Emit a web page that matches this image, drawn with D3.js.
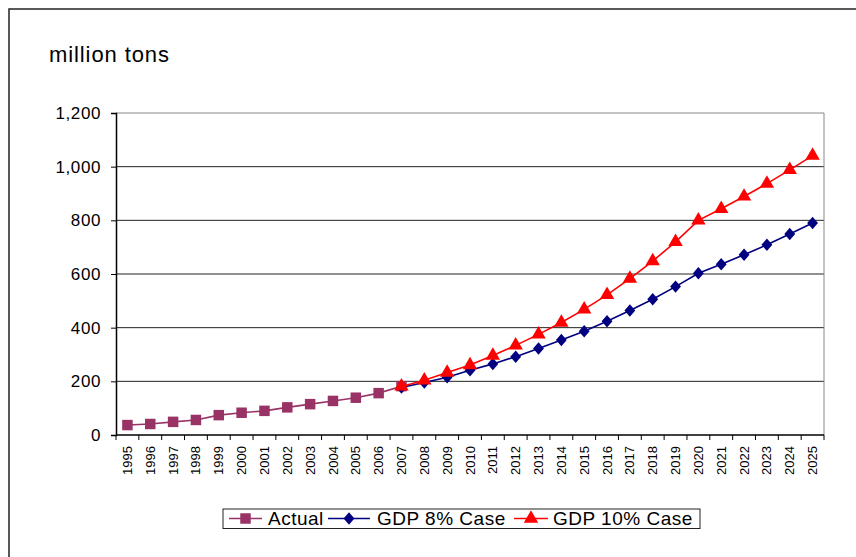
<!DOCTYPE html>
<html>
<head>
<meta charset="utf-8">
<script src="https://cdn.jsdelivr.net/npm/d3@7"></script>
<style>
  html, body { margin: 0; padding: 0; background: #fff; }
  svg { display: block; }
</style>
</head>
<body>
<div id="chart"></div>
<script>
// Years on the category axis
const years = d3.range(1995, 2026).map(String);

// Actual consumption, 1995–2007 (million tons)
const actualYears = years.slice(0, 13);
const actualValues = [37, 41, 49, 56, 74, 83, 90, 103, 115, 127, 139, 156, 182];

// Projections, 2007–2025 (million tons)
const caseYears = years.slice(12);
const gdp8Values = [177, 196, 215, 241, 265, 292, 322, 354, 387, 424, 464, 506, 553, 603, 636, 672, 709, 749, 790];
const gdp10Values = [181, 204, 233, 261, 296, 334, 375, 419, 468, 522, 583, 648, 720, 800, 843, 889, 937, 988, 1041];

const yTicks = [0, 200, 400, 600, 800, 1000, 1200];

const series = [
  { name: "Actual", years: actualYears, values: actualValues, color: "#993366", marker: "square" },
  { name: "GDP 8% Case", years: caseYears, values: gdp8Values, color: "#000080", marker: "diamond" },
  { name: "GDP 10% Case", years: caseYears, values: gdp10Values, color: "#ff0000", marker: "triangle" }
];

const W = 856, H = 557;
const plot = { left: 116, right: 824, top: 113, bottom: 435 };
const font = "'Liberation Sans', Arial, sans-serif";

const svg = d3.select("#chart").append("svg")
  .attr("width", W).attr("height", H);

// Outer chart frame (extends past the bottom/right edges)
svg.append("rect")
  .attr("x", 9).attr("y", 9)
  .attr("width", W + 20).attr("height", H + 20)
  .attr("fill", "#fff")
  .attr("stroke", "#222").attr("stroke-width", 1.5);

const x = d3.scaleBand().domain(years).range([plot.left, plot.right]).padding(0);
const y = d3.scaleLinear().domain([0, 1200]).range([plot.bottom, plot.top]);
const cx = d => x(d) + x.bandwidth() / 2;

// Horizontal gridlines
svg.append("g").selectAll("line")
  .data(yTicks.filter(t => t > 0))
  .join("line")
  .attr("x1", plot.left).attr("x2", plot.right)
  .attr("y1", d => y(d)).attr("y2", d => y(d))
  .attr("stroke", d => d === 1200 ? "#888" : "#222")
  .attr("stroke-width", 1);

// Right edge of the plot area
svg.append("line")
  .attr("x1", plot.right).attr("x2", plot.right)
  .attr("y1", plot.top).attr("y2", plot.bottom)
  .attr("stroke", "#888").attr("stroke-width", 1);

// Y axis
const yAxis = svg.append("g")
  .attr("transform", `translate(${plot.left},0)`)
  .call(d3.axisLeft(y).tickValues(yTicks).tickFormat(d3.format(",")).tickSize(5).tickPadding(10));
yAxis.select(".domain").attr("stroke", "#000").attr("stroke-width", 1.5);
yAxis.selectAll(".tick line").attr("stroke", "#000");
yAxis.selectAll("text")
  .attr("font-family", font).attr("font-size", 17).attr("letter-spacing", "0.6px")
  .attr("fill", "#000");

// X axis: labels at category centres, ticks on category boundaries
const xAxis = svg.append("g")
  .attr("transform", `translate(0,${plot.bottom})`)
  .call(d3.axisBottom(x).tickSize(0).tickPadding(0));
xAxis.select(".domain").remove();
xAxis.selectAll(".tick text")
  .attr("font-family", font).attr("font-size", 13)
  .attr("fill", "#000")
  .attr("text-anchor", "end")
  .attr("transform", "rotate(-90)")
  .attr("x", -11).attr("y", 0).attr("dy", "0.35em");

svg.append("line")
  .attr("x1", plot.left).attr("x2", plot.right)
  .attr("y1", plot.bottom).attr("y2", plot.bottom)
  .attr("stroke", "#000").attr("stroke-width", 1.5);
const bounds = years.map(d => x(d)).concat([x.range()[1]]);
svg.append("g").selectAll("line")
  .data(bounds)
  .join("line")
  .attr("x1", d => d).attr("x2", d => d)
  .attr("y1", plot.bottom).attr("y2", plot.bottom + 5)
  .attr("stroke", "#000").attr("stroke-width", 1);

// Unit label
svg.append("text")
  .attr("x", 49).attr("y", 62)
  .attr("font-family", font).attr("font-size", 22).attr("letter-spacing", "0.9px")
  .attr("fill", "#000")
  .text("million tons");

// Marker shapes
const symbolFor = {
  square: d3.symbol().type(d3.symbolSquare).size(110),
  diamond: d3.symbol().type(d3.symbolDiamond2).size(75),
  triangle: d3.symbol().type(d3.symbolTriangle).size(90)
};

const line = d3.line().x(d => cx(d.year)).y(d => y(d.value));

series.forEach(s => {
  const pts = s.years.map((yr, i) => ({ year: yr, value: s.values[i] }));
  const g = svg.append("g");
  g.append("path")
    .datum(pts)
    .attr("d", line)
    .attr("fill", "none")
    .attr("stroke", s.color).attr("stroke-width", 1.6);
  g.selectAll("path.m")
    .data(pts)
    .join("path")
    .attr("class", "m")
    .attr("d", symbolFor[s.marker])
    .attr("transform", d => `translate(${cx(d.year)},${y(d.value)})` + (s.marker === "diamond" ? " scale(1,1.15)" : ""))
    .attr("fill", s.color);
});

// Legend
const legend = svg.append("g");
legend.append("rect")
  .attr("x", 223).attr("y", 509).attr("width", 477).attr("height", 19.5)
  .attr("fill", "#fff").attr("stroke", "#222").attr("stroke-width", 1);

const legendItems = [
  { s: series[0], x1: 229, x2: 262, tx: 268 },
  { s: series[1], x1: 328, x2: 370, tx: 377 },
  { s: series[2], x1: 514, x2: 548, tx: 553 }
];
legendItems.forEach(it => {
  const ly = 518.5;
  legend.append("line")
    .attr("x1", it.x1).attr("x2", it.x2).attr("y1", ly).attr("y2", ly)
    .attr("stroke", it.s.color).attr("stroke-width", 1.6);
  legend.append("path")
    .attr("d", symbolFor[it.s.marker])
    .attr("transform", `translate(${(it.x1 + it.x2) / 2},${ly})` + (it.s.marker === "diamond" ? " scale(1,1.15)" : ""))
    .attr("fill", it.s.color);
  legend.append("text")
    .attr("x", it.tx).attr("y", ly).attr("dy", "0.36em")
    .attr("font-family", font).attr("font-size", 19).attr("letter-spacing", "0.5px")
    .attr("fill", "#000")
    .text(it.s.name);
});
</script>
</body>
</html>
